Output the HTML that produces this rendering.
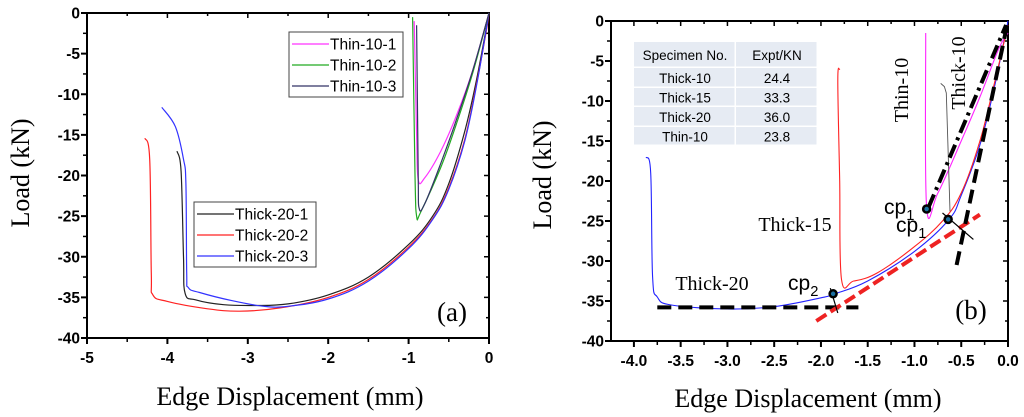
<!DOCTYPE html>
<html><head><meta charset="utf-8"><style>
body{margin:0;background:#fff;}
svg{display:block;}
.tk{font-family:"Liberation Sans",sans-serif;font-weight:bold;font-size:15.5px;}
.ser{font-family:"Liberation Serif",serif;}
.sans{font-family:"Liberation Sans",sans-serif;}
</style></head><body>
<svg id="chart" width="1024" height="417" viewBox="0 0 1024 417" xmlns="http://www.w3.org/2000/svg">
<g id="pa"></g>
<g id="pb"></g>
</svg>
<script>
// Panel A data
const aXTicks=[-5,-4,-3,-2,-1,0];
const aYTicks=[0,-5,-10,-15,-20,-25,-30,-35,-40];
const aThick201X=[-3.88,-3.83,-3.8,-3.78,-3.65,-3.3,-2.9,-2.5,-2,-1.5,-1,-0.7,-0.5,-0.3,-0.15,0];
const aThick201Y=[-17,-19.5,-30,-34.5,-35.3,-35.9,-36,-35.8,-34.7,-32.5,-28.5,-25,-21,-14.5,-8,0];
const aThick202X=[-4.28,-4.22,-4.2,-4.18,-4.0,-3.5,-3.1,-2.6,-2,-1.5,-1,-0.7,-0.5,-0.3,-0.15,-0.03,0];
const aThick202Y=[-15.4,-18,-32,-34.7,-35.5,-36.4,-36.7,-36.3,-35,-32.8,-28.8,-25.3,-21.5,-15.5,-8.5,-2,0];
const aThick203X=[-4.07,-3.9,-3.8,-3.77,-3.76,-3.74,-3.6,-3.2,-2.8,-2.5,-2,-1.5,-1,-0.7,-0.5,-0.3,-0.15,0];
const aThick203Y=[-11.6,-14,-18,-21,-32,-33.8,-34.4,-35.4,-36.1,-36.1,-35.2,-33,-29,-25.4,-21.7,-15.7,-8.7,0];
const aThin101X=[-0.93,-0.9,-0.88,-0.8,-0.6,-0.4,-0.2,0];
const aThin101Y=[-1,-15,-20.5,-20.3,-17,-12.5,-7,0];
const aThin102X=[-0.95,-0.92,-0.9,-0.85,-0.6,-0.4,-0.2,0];
const aThin102Y=[-0.5,-20,-25,-24.5,-19,-13.5,-7.3,0];
const aThin103X=[-0.9,-0.88,-0.87,-0.8,-0.6,-0.4,-0.2,0];
const aThin103Y=[-1.5,-20,-24,-23.5,-18.5,-13,-7,0];
// Panel B data
const bXTicks=[-4.0,-3.5,-3.0,-2.5,-2.0,-1.5,-1.0,-0.5,0.0];
const bYTicks=[0,-5,-10,-15,-20,-25,-30,-35,-40];
const bThick20X=[-3.87,-3.82,-3.8,-3.75,-3.6,-3.0,-2.5,-2,-1.85,-1.5,-1.0,-0.63,-0.5,-0.3,-0.15,0];
const bThick20Y=[-17,-19,-32,-34.5,-35.5,-36,-35.7,-34.6,-34.1,-32.5,-28.8,-24.8,-21.8,-15.5,-8.5,0];
const bThick15X=[-1.8,-1.82,-1.8,-1.78,-1.65,-1.4,-1.0,-0.7,-0.5,-0.3,-0.15,0];
const bThick15Y=[-6,-7.5,-20,-32.3,-32.5,-31.5,-28.2,-25,-21.5,-15,-8,-0.5];
const bThin10X=[-0.88,-0.87,-0.75,-0.5,-0.3,-0.1,0];
const bThin10Y=[-1.5,-23.2,-21.5,-15,-9.5,-3.5,-1.5];
const tableRows=[["Specimen No.","Expt/KN"],["Thick-10","24.4"],["Thick-15","33.3"],["Thick-20","36.0"],["Thin-10","23.8"]];

const NS="http://www.w3.org/2000/svg";
function mk(p,tag,at,txt){const e=document.createElementNS(NS,tag);for(const k in at)e.setAttribute(k,at[k]);if(txt!==undefined)e.textContent=txt;p.appendChild(e);return e;}
function axes(g,L,R,T,B,x0,x1,y0,y1){
  return {sx:v=>L+(v-x0)/(x1-x0)*(R-L), sy:v=>T+(v-y0)/(y1-y0)*(B-T)};
}
function smoothPath(pts){
  let d='M'+pts[0][0].toFixed(1)+','+pts[0][1].toFixed(1);
  const k=0.18;
  for(let i=0;i<pts.length-1;i++){
    const p0=pts[i-1]||pts[i],p1=pts[i],p2=pts[i+1],p3=pts[i+2]||p2;
    const c1=[p1[0]+(p2[0]-p0[0])*k,p1[1]+(p2[1]-p0[1])*k];
    const c2=[p2[0]-(p3[0]-p1[0])*k,p2[1]-(p3[1]-p1[1])*k];
    d+='C'+c1[0].toFixed(1)+','+c1[1].toFixed(1)+' '+c2[0].toFixed(1)+','+c2[1].toFixed(1)+' '+p2[0].toFixed(1)+','+p2[1].toFixed(1);
  }
  return d;
}
function poly(g,s,xs,ys,col,w,name,dash,smooth){
  const pts=xs.map((x,i)=>[s.sx(x),s.sy(ys[i])]);
  const d=smooth?smoothPath(pts):pts.map((p,i)=>(i?'L':'M')+p[0].toFixed(1)+','+p[1].toFixed(1)).join('');
  const p=mk(g,'path',{d:d,fill:'none',stroke:col,'stroke-width':w,'stroke-linejoin':'round'});
  if(dash)p.setAttribute('stroke-dasharray',dash);
  
  
  return p;
}
function frame(g,s,L,R,T,B,xt,yt,xfmt,minorX,minorY){
  mk(g,'rect',{x:L,y:T,width:R-L,height:B-T,fill:'none',stroke:'#000','stroke-width':2});
  xt.forEach(v=>{const x=s.sx(v);
    mk(g,'line',{x1:x,x2:x,y1:B,y2:B+6,stroke:'#000','stroke-width':2});
    mk(g,'line',{x1:x,x2:x,y1:T,y2:T+5,stroke:'#000','stroke-width':1.5});
    const t=mk(g,'text',{x:x,y:B+25,'text-anchor':'middle',class:'tk'},xfmt(v));
    
    
  });
  minorX.forEach(v=>{const x=s.sx(v);
    mk(g,'line',{x1:x,x2:x,y1:B,y2:B+4,stroke:'#000','stroke-width':1.5});
    mk(g,'line',{x1:x,x2:x,y1:T,y2:T+3,stroke:'#000','stroke-width':1.5});});
  yt.forEach(v=>{const y=s.sy(v);
    mk(g,'line',{x1:L-6,x2:L,y1:y,y2:y,stroke:'#000','stroke-width':2});
    mk(g,'line',{x1:R-5,x2:R,y1:y,y2:y,stroke:'#000','stroke-width':1.5});
    const t=mk(g,'text',{x:L-7,y:y+5.5,'text-anchor':'end',class:'tk'},String(v));
    
    
  });
  minorY.forEach(v=>{const y=s.sy(v);
    mk(g,'line',{x1:L-4,x2:L,y1:y,y2:y,stroke:'#000','stroke-width':1.5});
    mk(g,'line',{x1:R-3,x2:R,y1:y,y2:y,stroke:'#000','stroke-width':1.5});});
}
// ---------- Panel A
const ga=document.getElementById('pa');
const sa=axes(ga,87,489,13,338,-5,0,0,-40);
frame(ga,sa,87,489,13,338,aXTicks,aYTicks,v=>String(v),[-4.5,-3.5,-2.5,-1.5,-0.5],[-2.5,-7.5,-12.5,-17.5,-22.5,-27.5,-32.5,-37.5]);
poly(ga,sa,aThick201X,aThick201Y,'#222',1.2,'thick-20-1-line',null,true);
poly(ga,sa,aThick202X,aThick202Y,'#f22',1.2,'thick-20-2-line',null,true);
poly(ga,sa,aThick203X,aThick203Y,'#33f',1.2,'thick-20-3-line',null,true);
poly(ga,sa,aThin101X,aThin101Y,'#f3f',1.2,'thin-10-1-line',null,true);
poly(ga,sa,aThin102X,aThin102Y,'#2a2',1.2,'thin-10-2-line',null,true);
poly(ga,sa,aThin103X,aThin103Y,'#336',1.2,'thin-10-3-line',null,true);
function legend(g,x,y,w,h,items,name){
  const lg=mk(g,'g',{});
  
  
  mk(lg,'rect',{x:x,y:y,width:w,height:h,fill:'#fff',stroke:'#444','stroke-width':1});
  items.forEach((it,i)=>{const yy=y+12+i*21;
    mk(lg,'line',{x1:x+3,x2:x+40,y1:yy,y2:yy,stroke:it[1],'stroke-width':1.3});
    const t=mk(lg,'text',{x:x+41,y:yy+5.5,class:'sans','font-size':'15.5'},it[0]);
    
    });
}
legend(ga,289,32,114,65,[["Thin-10-1","#f3f"],["Thin-10-2","#2a2"],["Thin-10-3","#336"]],'legend-thin');
legend(ga,194,202,122,65,[["Thick-20-1","#222"],["Thick-20-2","#f22"],["Thick-20-3","#33f"]],'legend-thick');
let t;
t=mk(ga,'text',{x:452,y:321,'text-anchor':'middle',class:'ser','font-size':'27'},'(a)');

t=mk(ga,'text',{x:0,y:0,transform:'translate(29,173) rotate(-90)','text-anchor':'middle',class:'ser','font-size':'26'},'Load (kN)');

t=mk(ga,'text',{x:290,y:405,'text-anchor':'middle',class:'ser','font-size':'26'},'Edge Displacement (mm)');

// ---------- Panel B
const gb=document.getElementById('pb');
const sb=axes(gb,611,1008,21,341,-4.245,0,0,-40);
frame(gb,sb,611,1008,21,341,bXTicks,bYTicks,v=>v.toFixed(1),[-3.75,-3.25,-2.75,-2.25,-1.75,-1.25,-0.75,-0.25],[-2.5,-7.5,-12.5,-17.5,-22.5,-27.5,-32.5,-37.5]);
// table
const tb=mk(gb,'g',{});


const rowY=[42,68,88,107,127,146];
tableRows.forEach((r,i)=>{
  [[634,736],[736,818]].forEach((c,j)=>{
    mk(tb,'rect',{x:c[0],y:rowY[i],width:c[1]-c[0]-1.5,height:rowY[i+1]-rowY[i]-1.5,fill:'#e6ebf3'});
    const tx=mk(tb,'text',{x:(c[0]+c[1])/2,y:(rowY[i]+rowY[i+1])/2+5,'text-anchor':'middle',class:'sans','font-size':'13.5'},r[j]);
    
    
  });
});
poly(gb,sb,bThick20X,bThick20Y,'#22f',1.1,'thick-20-line',null,true);
poly(gb,sb,bThick15X,bThick15Y,'#f22',1.1,'thick-15-line',null,true);
poly(gb,sb,bThin10X,bThin10Y,'#f2f',1.1,'thin-10-line',null,true);
poly(gb,sb,[-0.62,-0.66,-0.68,-0.72],[-23.8,-9,-8.2,-7.8],'#555',0.9,'thick-10-leader');
// fitted lines
poly(gb,sb,[-3.75,-1.6],[-35.8,-35.8],'#000',4,'plateau-dashed-line','14,7');
poly(gb,sb,[-2.05,-0.3],[-37.5,-24.2],'#e22',4,'tangent-dashed-line','12,5');
poly(gb,sb,[-0.55,0],[-30.5,0],'#000',4,'stiffness-dashed-line','14,7');
poly(gb,sb,[-0.85,-0.02],[-23.3,-0.5],'#000',4,'thin-stiffness-dashdot','14,5,3,5');
poly(gb,sb,[-0.7,-0.37],[-24,-27.3],'#000',1.2,'intersection-mark');
poly(gb,sb,[-1.9,-1.82],[-33.4,-36.5],'#000',1.2,'cp2-mark');
[[-0.87,-23.5,'cp1-thin-point'],[-0.64,-24.8,'cp1-thick-point'],[-1.87,-34.1,'cp2-point']].forEach(p=>{
  const c=mk(gb,'circle',{cx:sb.sx(p[0]),cy:sb.sy(p[1]),r:3.5,fill:'#1a6fa0',stroke:'#000','stroke-width':2.5});
  
});
function lab(x,y,txt,sub,name,size){
  const e=mk(gb,'text',{x:x,y:y,class:'sans','font-size':size});
  
  mk(e,'tspan',{},txt);
  mk(e,'tspan',{dy:6,'font-size':size*0.7},sub);
}
lab(884,214,'cp','1','cp1-thin-label',21);
lab(896,232,'cp','1','cp1-thick-label',21);
lab(788,290,'cp','2','cp2-label',21);
t=mk(gb,'text',{x:795,y:231,'text-anchor':'middle',class:'ser','font-size':'20'},'Thick-15');

t=mk(gb,'text',{x:712,y:290,'text-anchor':'middle',class:'ser','font-size':'20'},'Thick-20');

t=mk(gb,'text',{x:0,y:0,transform:'translate(908,90) rotate(-90)','text-anchor':'middle',class:'ser','font-size':'20'},'Thin-10');

t=mk(gb,'text',{x:0,y:0,transform:'translate(965,73) rotate(-90)','text-anchor':'middle',class:'ser','font-size':'20'},'Thick-10');

t=mk(gb,'text',{x:971,y:319,'text-anchor':'middle',class:'ser','font-size':'27'},'(b)');

t=mk(gb,'text',{x:0,y:0,transform:'translate(551,175) rotate(-90)','text-anchor':'middle',class:'ser','font-size':'26'},'Load (kN)');

t=mk(gb,'text',{x:808,y:407,'text-anchor':'middle',class:'ser','font-size':'26'},'Edge Displacement (mm)');

</script>
</body></html>
